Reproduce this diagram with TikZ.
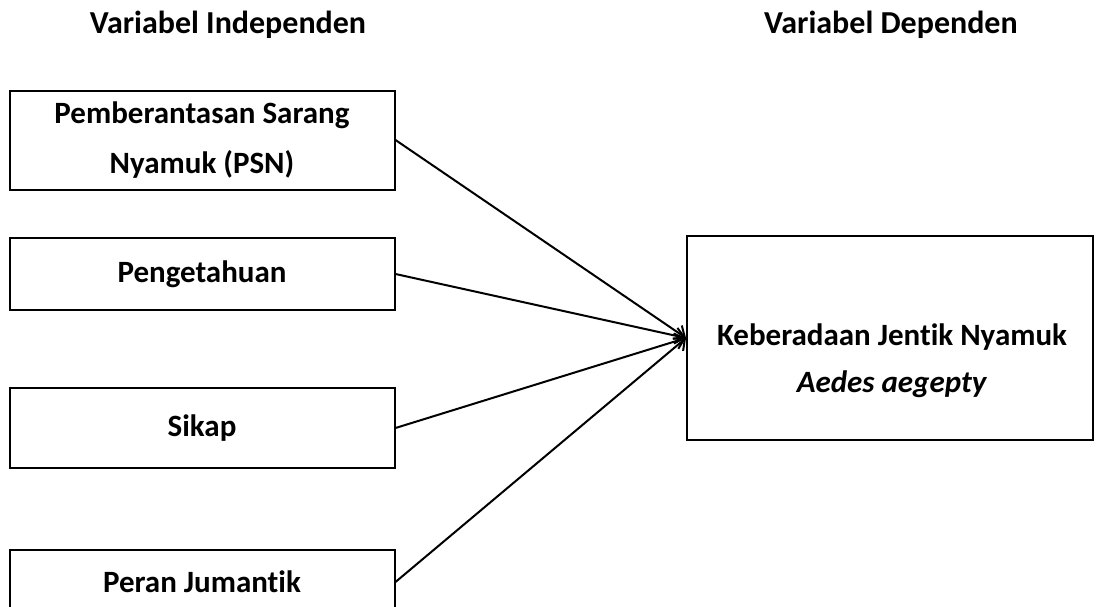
\documentclass[tikz,border=0pt]{standalone}
\usepackage{fontspec}
\setmainfont{Carlito}[Ligatures=NoCommon]
\usetikzlibrary{arrows.meta, positioning}
\tikzset{
    judul/.style={font=\bfseries\fontsize{32}{38}\selectfont, inner sep=0pt},
    varbox/.style={draw, line width=2pt, minimum width=385pt, inner sep=0pt, align=center,
        font=\bfseries\fontsize{31}{50}\selectfont},
    panah/.style={line width=2pt, -{Straight Barb[length=9pt, width=16pt, line width=2pt]}}
}
\begin{document}
\begin{tikzpicture}[x=1pt, y=-1pt]
    \useasboundingbox (0,0) rectangle (1096,606);
    % judul kolom
    \node[judul] (tind) at (228,25) {Variabel Independen};
    \node[judul] (tdep) at (891,25) {Variabel Dependen};
    % variabel independen
    \node[varbox, minimum height=99pt] (psn) at (202,140) {Pemberantasan Sarang\\Nyamuk (PSN)};
    \node[varbox, minimum height=72pt] (tahu) at (202,274) {Pengetahuan};
    \node[varbox, minimum height=80pt] (sikap) at (202,428) {Sikap};
    \node[varbox, minimum height=64pt] (jumantik) at (202,582) {Peran Jumantik};
    % variabel dependen
    \node[draw, line width=2pt, minimum width=406pt, minimum height=204pt] (jentik) at (890,338) {};
    \node[align=center, font=\bfseries\fontsize{31}{47}\selectfont] (jentiktxt) at (892,361)
        {Keberadaan Jentik Nyamuk\\\textit{Aedes aegepty}};
    % panah
    \foreach \v in {psn,tahu,sikap,jumantik}
        \draw[panah] (\v.east) -- (jentik.west);
\end{tikzpicture}
\end{document}
